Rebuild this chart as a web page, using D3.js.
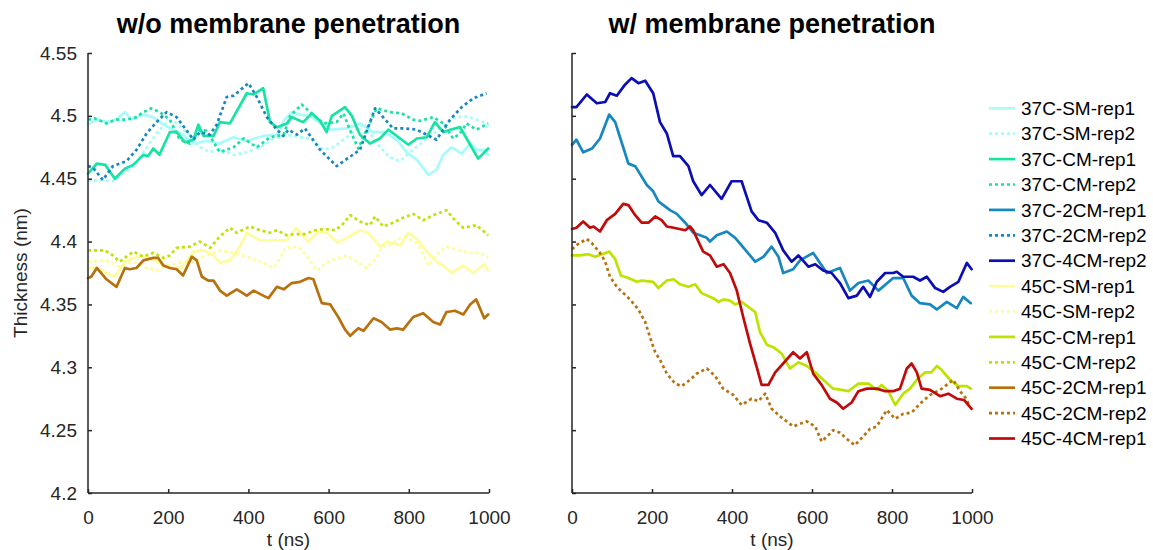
<!DOCTYPE html>
<html>
<head>
<meta charset="utf-8">
<script src="https://cdn.jsdelivr.net/npm/d3@7"></script>
<style>
  html, body { margin: 0; padding: 0; background: #fff; }
  svg { display: block; font-family: "Liberation Sans", Arial, Helvetica, sans-serif; }
</style>
</head>
<body>
<div id="chart"></div>
<script>
// Membrane thickness time series, [t (ns), thickness (nm)] pairs.
const s37C_SM_rep1 = [[0,4.493],[21,4.497],[46,4.495],[71,4.497],[92,4.503],[108,4.497],[138,4.501],[163,4.499],[188,4.493],[213,4.489],[237,4.485],[263,4.478],[296,4.480],[329,4.478],[363,4.483],[396,4.480],[437,4.484],[471,4.485],[490,4.497],[508,4.503],[529,4.501],[554,4.500],[579,4.494],[603,4.489],[645,4.490],[678,4.494],[711,4.487],[740,4.487],[770,4.481],[795,4.471],[820,4.465],[849,4.453],[869,4.457],[886,4.469],[907,4.475],[932,4.470],[953,4.478],[969,4.473],[985,4.473],[998,4.469]];
const s37C_SM_rep2 = [[0,4.448],[29,4.449],[62,4.448],[87,4.454],[113,4.460],[138,4.471],[171,4.486],[196,4.495],[213,4.496],[246,4.487],[279,4.475],[304,4.471],[329,4.474],[363,4.469],[396,4.471],[429,4.475],[463,4.482],[496,4.485],[525,4.483],[554,4.482],[587,4.473],[612,4.475],[645,4.483],[687,4.494],[720,4.478],[753,4.467],[778,4.464],[811,4.473],[845,4.482],[878,4.490],[911,4.498],[936,4.500],[961,4.498],[986,4.495],[998,4.490]];
const s37C_CM_rep1 = [[0,4.454],[22,4.462],[43,4.461],[67,4.450],[92,4.458],[113,4.461],[138,4.469],[150,4.468],[163,4.474],[178,4.469],[204,4.487],[221,4.487],[242,4.479],[263,4.481],[275,4.493],[288,4.484],[313,4.484],[329,4.495],[354,4.494],[396,4.518],[413,4.517],[437,4.522],[454,4.495],[471,4.491],[496,4.494],[508,4.499],[537,4.495],[558,4.502],[579,4.496],[595,4.487],[608,4.500],[641,4.507],[658,4.500],[678,4.485],[703,4.478],[728,4.482],[749,4.489],[770,4.484],[799,4.477],[820,4.482],[845,4.483],[865,4.495],[886,4.487],[903,4.489],[928,4.491],[953,4.477],[973,4.466],[998,4.474]];
const s37C_CM_rep2 = [[0,4.497],[17,4.498],[46,4.494],[71,4.497],[96,4.497],[121,4.499],[138,4.503],[158,4.506],[179,4.503],[204,4.497],[229,4.481],[254,4.478],[279,4.489],[296,4.488],[329,4.471],[363,4.475],[388,4.482],[421,4.475],[454,4.483],[488,4.485],[504,4.500],[533,4.509],[554,4.503],[587,4.494],[620,4.495],[637,4.502],[653,4.489],[674,4.474],[695,4.489],[720,4.506],[753,4.503],[782,4.502],[811,4.497],[828,4.496],[861,4.499],[886,4.494],[911,4.482],[928,4.486],[944,4.494],[969,4.489],[998,4.494]];
const s37C_2CM_rep1 = [[0,4.477],[11,4.481],[28,4.471],[50,4.474],[70,4.482],[93,4.501],[108,4.495],[124,4.479],[141,4.462],[158,4.460],[187,4.445],[203,4.440],[216,4.432],[245,4.425],[262,4.422],[283,4.415],[303,4.407],[337,4.403],[345,4.400],[362,4.405],[387,4.408],[408,4.403],[437,4.392],[458,4.384],[479,4.388],[499,4.396],[516,4.388],[528,4.375],[553,4.378],[570,4.385],[603,4.391],[637,4.375],[670,4.379],[695,4.361],[716,4.367],[741,4.369],[766,4.361],[803,4.371],[828,4.371],[849,4.357],[870,4.351],[895,4.350],[912,4.346],[937,4.352],[962,4.347],[978,4.356],[997,4.351]];
const s37C_2CM_rep2 = [[0,4.460],[12,4.459],[37,4.449],[62,4.460],[96,4.464],[121,4.473],[146,4.486],[171,4.495],[196,4.503],[221,4.499],[242,4.490],[263,4.481],[279,4.487],[304,4.485],[321,4.493],[346,4.515],[363,4.516],[400,4.526],[421,4.515],[446,4.499],[471,4.489],[487,4.484],[500,4.489],[521,4.485],[541,4.490],[579,4.473],[620,4.460],[678,4.473],[716,4.506],[761,4.490],[790,4.490],[820,4.489],[869,4.481],[903,4.497],[932,4.507],[961,4.514],[994,4.518]];
const s37C_4CM_rep2 = [[0,4.507],[11,4.507],[37,4.517],[62,4.510],[83,4.511],[95,4.518],[112,4.516],[133,4.525],[149,4.530],[166,4.526],[183,4.528],[203,4.518],[220,4.495],[237,4.486],[253,4.468],[270,4.468],[291,4.460],[303,4.448],[324,4.437],[345,4.445],[374,4.434],[399,4.448],[424,4.448],[449,4.424],[466,4.417],[487,4.415],[508,4.407],[528,4.393],[549,4.384],[566,4.389],[591,4.380],[608,4.382],[628,4.377],[649,4.375],[670,4.367],[691,4.355],[712,4.357],[728,4.364],[745,4.356],[762,4.368],[783,4.375],[803,4.375],[812,4.376],[828,4.372],[853,4.372],[870,4.369],[887,4.372],[908,4.363],[928,4.360],[945,4.364],[966,4.368],[987,4.383],[999,4.378]];
const s45C_SM_rep1 = [[0,4.379],[21,4.379],[46,4.375],[67,4.372],[92,4.384],[121,4.388],[146,4.388],[171,4.384],[204,4.379],[233,4.379],[263,4.392],[288,4.393],[313,4.389],[329,4.383],[354,4.385],[379,4.396],[396,4.407],[429,4.401],[463,4.401],[496,4.401],[519,4.411],[549,4.400],[574,4.408],[595,4.407],[624,4.399],[645,4.403],[678,4.409],[699,4.407],[728,4.396],[746,4.400],[779,4.397],[799,4.407],[820,4.402],[845,4.392],[869,4.384],[886,4.381],[907,4.375],[936,4.381],[961,4.375],[988,4.382],[998,4.377]];
const s45C_SM_rep2 = [[0,4.384],[29,4.385],[54,4.384],[79,4.380],[113,4.384],[146,4.379],[171,4.377],[196,4.381],[229,4.383],[263,4.384],[296,4.389],[329,4.393],[363,4.391],[396,4.388],[429,4.384],[463,4.379],[479,4.387],[492,4.395],[525,4.396],[549,4.387],[570,4.377],[599,4.384],[645,4.389],[670,4.384],[695,4.379],[720,4.387],[732,4.396],[761,4.399],[786,4.404],[820,4.399],[836,4.390],[849,4.381],[874,4.391],[894,4.396],[928,4.393],[953,4.391],[978,4.391],[998,4.387]];
const s45C_CM_rep1 = [[0,4.389],[20,4.389],[41,4.390],[58,4.388],[75,4.390],[93,4.392],[108,4.386],[122,4.373],[141,4.371],[162,4.368],[175,4.369],[203,4.368],[216,4.363],[237,4.369],[254,4.370],[270,4.366],[291,4.364],[308,4.366],[324,4.359],[353,4.355],[366,4.352],[379,4.354],[395,4.353],[408,4.350],[424,4.352],[458,4.344],[470,4.328],[487,4.318],[503,4.316],[524,4.311],[545,4.299],[566,4.304],[587,4.301],[608,4.296],[628,4.290],[653,4.283],[674,4.282],[691,4.281],[716,4.287],[741,4.287],[762,4.282],[774,4.286],[791,4.281],[808,4.270],[828,4.279],[845,4.283],[862,4.290],[883,4.296],[898,4.296],[912,4.301],[924,4.298],[945,4.290],[966,4.285],[987,4.285],[997,4.283]];
const s45C_CM_rep2 = [[0,4.393],[21,4.393],[42,4.393],[62,4.389],[79,4.384],[113,4.392],[138,4.388],[163,4.391],[188,4.387],[204,4.389],[221,4.395],[254,4.396],[279,4.400],[304,4.395],[329,4.404],[354,4.411],[371,4.407],[404,4.412],[429,4.409],[454,4.407],[471,4.409],[496,4.405],[516,4.406],[541,4.406],[566,4.409],[591,4.410],[616,4.409],[633,4.413],[654,4.421],[678,4.416],[703,4.413],[716,4.420],[736,4.412],[761,4.415],[786,4.419],[811,4.422],[836,4.417],[861,4.421],[894,4.425],[915,4.417],[936,4.411],[969,4.413],[998,4.405]];
const s45C_2CM_rep1 = [[0,4.371],[8,4.372],[22,4.379],[46,4.370],[71,4.364],[92,4.379],[104,4.378],[121,4.379],[138,4.385],[163,4.387],[175,4.387],[188,4.381],[204,4.379],[221,4.378],[237,4.373],[259,4.388],[271,4.385],[284,4.372],[300,4.369],[313,4.369],[329,4.361],[346,4.357],[371,4.362],[396,4.357],[413,4.361],[437,4.357],[450,4.355],[471,4.364],[488,4.362],[508,4.367],[529,4.368],[550,4.371],[562,4.370],[583,4.351],[604,4.350],[624,4.340],[641,4.330],[654,4.325],[674,4.331],[687,4.329],[712,4.339],[732,4.336],[753,4.330],[770,4.331],[786,4.330],[811,4.340],[836,4.343],[861,4.336],[878,4.334],[894,4.344],[915,4.345],[936,4.342],[953,4.350],[968,4.354],[988,4.339],[998,4.342]];
const s45C_2CM_rep2 = [[0,4.394],[15,4.398],[37,4.402],[49,4.399],[70,4.391],[83,4.384],[95,4.372],[112,4.364],[125,4.360],[145,4.354],[166,4.346],[183,4.336],[195,4.324],[208,4.312],[220,4.306],[237,4.295],[258,4.287],[274,4.285],[295,4.290],[312,4.295],[337,4.299],[358,4.293],[378,4.283],[403,4.278],[424,4.270],[449,4.275],[466,4.273],[483,4.279],[499,4.267],[520,4.261],[553,4.253],[587,4.257],[608,4.253],[624,4.241],[641,4.246],[653,4.250],[670,4.248],[687,4.243],[707,4.238],[728,4.245],[745,4.251],[762,4.253],[787,4.266],[808,4.259],[828,4.263],[849,4.264],[870,4.271],[895,4.278],[920,4.282],[941,4.287],[953,4.290],[970,4.281],[983,4.276],[995,4.269]];
const s45C_4CM_rep1 = [[0,4.410],[11,4.411],[28,4.416],[45,4.411],[54,4.412],[70,4.408],[87,4.417],[108,4.422],[128,4.430],[141,4.429],[158,4.421],[174,4.415],[191,4.415],[208,4.420],[224,4.417],[237,4.412],[254,4.411],[283,4.409],[295,4.412],[303,4.409],[316,4.400],[328,4.392],[345,4.389],[362,4.380],[379,4.382],[395,4.375],[412,4.361],[428,4.340],[445,4.319],[462,4.300],[474,4.286],[491,4.286],[508,4.296],[528,4.303],[553,4.312],[570,4.307],[587,4.312],[603,4.295],[624,4.286],[645,4.275],[662,4.272],[678,4.267],[699,4.272],[716,4.281],[737,4.283],[762,4.283],[783,4.281],[803,4.281],[820,4.283],[837,4.299],[849,4.303],[862,4.296],[874,4.283],[895,4.282],[920,4.277],[941,4.279],[962,4.275],[980,4.274],[999,4.267]];

// Axis ticks and panel titles
const xTicks = [0, 200, 400, 600, 800, 1000];
const yTicks = [4.2, 4.25, 4.3, 4.35, 4.4, 4.45, 4.5, 4.55];
const panelTitles = ["w/o membrane penetration", "w/ membrane penetration"];

// Series definitions: name, data, colour, dotted?, panel
const series = [
  { name: "37C-SM-rep1",  data: s37C_SM_rep1,  color: "#a9fbfb", dotted: false, panel: 0 },
  { name: "37C-SM-rep2",  data: s37C_SM_rep2,  color: "#a9fbfb", dotted: true,  panel: 0 },
  { name: "37C-CM-rep1",  data: s37C_CM_rep1,  color: "#17e3a3", dotted: false, panel: 0 },
  { name: "37C-CM-rep2",  data: s37C_CM_rep2,  color: "#17e3a3", dotted: true,  panel: 0 },
  { name: "37C-2CM-rep1", data: s37C_2CM_rep1, color: "#1787c0", dotted: false, panel: 1 },
  { name: "37C-2CM-rep2", data: s37C_2CM_rep2, color: "#1787c0", dotted: true,  panel: 0 },
  { name: "37C-4CM-rep2", data: s37C_4CM_rep2, color: "#0b0eb5", dotted: false, panel: 1 },
  { name: "45C-SM-rep1",  data: s45C_SM_rep1,  color: "#fffc9e", dotted: false, panel: 0 },
  { name: "45C-SM-rep2",  data: s45C_SM_rep2,  color: "#fffc9e", dotted: true,  panel: 0 },
  { name: "45C-CM-rep1",  data: s45C_CM_rep1,  color: "#bde300", dotted: false, panel: 1 },
  { name: "45C-CM-rep2",  data: s45C_CM_rep2,  color: "#bde300", dotted: true,  panel: 0 },
  { name: "45C-2CM-rep1", data: s45C_2CM_rep1, color: "#b8710e", dotted: false, panel: 0 },
  { name: "45C-2CM-rep2", data: s45C_2CM_rep2, color: "#b8710e", dotted: true,  panel: 1 },
  { name: "45C-4CM-rep1", data: s45C_4CM_rep1, color: "#c10a0a", dotted: false, panel: 1 }
];

const W = 1153, H = 550;
const axisColor = "#262626";
const LW = 2.7;
const DOT = "3,3";

const svg = d3.select("#chart").append("svg")
  .attr("width", W).attr("height", H);

const panels = [
  { left: 88, right: 489, showY: true },
  { left: 572, right: 972, showY: false }
];
const plotTop = 53, plotBottom = 493;

const y = d3.scaleLinear().domain([4.2, 4.55]).range([plotBottom, plotTop]);

panels.forEach((p, i) => {
  const x = d3.scaleLinear().domain([0, 1000]).range([p.left, p.right]);
  const g = svg.append("g");

  // lines
  const line = d3.line().x(d => x(d[0])).y(d => y(d[1]));
  series.filter(s => s.panel === i).forEach(s => {
    g.append("path")
      .datum(s.data)
      .attr("fill", "none")
      .attr("stroke", s.color)
      .attr("stroke-width", LW)
      .attr("stroke-linejoin", "round")
      .attr("stroke-linecap", s.dotted ? "butt" : "round")
      .attr("stroke-dasharray", s.dotted ? DOT : null)
      .attr("d", line);
  });

  // x axis (ticks pointing inward)
  const xAxis = d3.axisBottom(x).tickValues(xTicks).tickSize(-4).tickPadding(18)
    .tickFormat(d3.format("d"));
  const gx = g.append("g").attr("transform", `translate(0,${plotBottom})`).call(xAxis);
  gx.select(".domain").attr("d", `M${p.left},0H${p.right}`);

  // y axis
  const yAxis = d3.axisLeft(y).tickValues(yTicks).tickSize(-4).tickPadding(11)
    .tickFormat(p.showY ? (d => String(+d.toFixed(2))) : () => "");
  const gy = g.append("g").attr("transform", `translate(${p.left},0)`).call(yAxis);
  gy.select(".domain").attr("d", `M0,${plotTop}V${plotBottom}`);

  [gx, gy].forEach(a => {
    a.select(".domain").attr("stroke", axisColor).attr("stroke-width", 1.5);
    a.selectAll(".tick line").attr("stroke", axisColor).attr("stroke-width", 1.5);
    a.selectAll(".tick text").attr("fill", axisColor)
      .style("font-size", "19px")
      .style("font-family", '"Liberation Sans", Arial, sans-serif');
  });

  // x label
  g.append("text")
    .attr("x", (p.left + p.right) / 2).attr("y", 546)
    .attr("text-anchor", "middle")
    .attr("fill", axisColor)
    .style("font-size", "19px")
    .text("t (ns)");

  // title
  g.append("text")
    .attr("x", (p.left + p.right) / 2).attr("y", 33)
    .attr("text-anchor", "middle")
    .attr("fill", "#000")
    .style("font-size", "27px")
    .style("font-weight", "bold")
    .text(panelTitles[i]);
});

// y label
svg.append("text")
  .attr("transform", "translate(27,273) rotate(-90)")
  .attr("text-anchor", "middle")
  .attr("fill", axisColor)
  .style("font-size", "19px")
  .text("Thickness (nm)");

// legend
const leg = svg.append("g");
const legY0 = 108.3, legDy = 25.4;
series.forEach((s, i) => {
  const yy = legY0 + i * legDy;
  leg.append("line")
    .attr("x1", 989).attr("x2", 1015).attr("y1", yy).attr("y2", yy)
    .attr("stroke", s.color).attr("stroke-width", LW)
    .attr("stroke-dasharray", s.dotted ? DOT : null);
  leg.append("text")
    .attr("x", 1021).attr("y", yy).attr("dy", "0.35em")
    .attr("fill", "#000")
    .style("font-size", "19px")
    .text(s.name);
});
</script>
</body>
</html>
